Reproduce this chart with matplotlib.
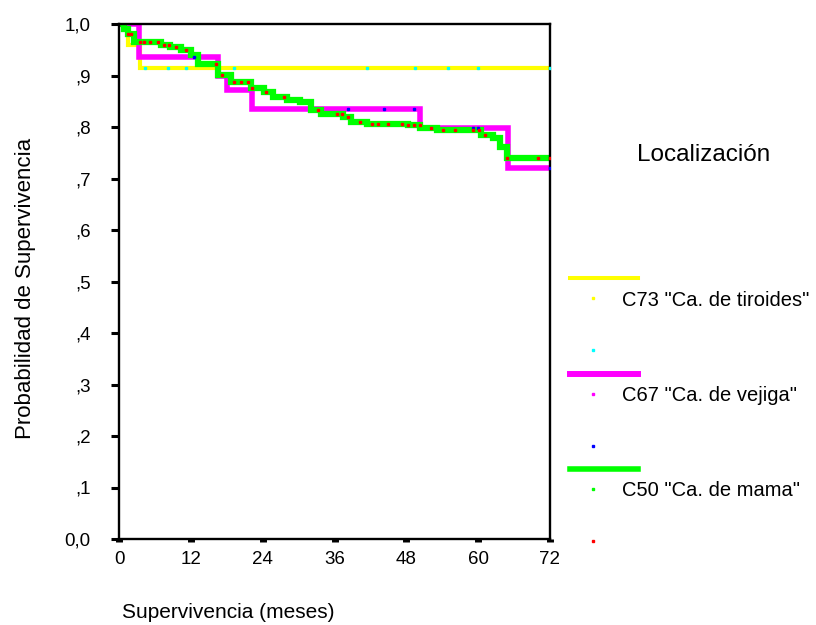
import matplotlib as mpl
mpl.use('Agg')
import matplotlib.pyplot as plt
from matplotlib.lines import Line2D
import numpy as np

plt.rcParams['font.family'] = ['Liberation Sans', 'DejaVu Sans']

# Kaplan-Meier step curves (months, survival)
tir_t = [0, 1.5, 3.5, 72]
tir_s = [1.0, 0.96, 0.915, 0.915]
tir_cens_t = [4.3, 8.2, 11.2, 19.2, 41.5, 49.5, 55, 60, 72]

vej_t = [0, 3.3, 16.5, 18.0, 22.3, 50.3, 65.0, 72]
vej_s = [1.0, 0.936, 0.90, 0.872, 0.835, 0.798, 0.72, 0.72]
vej_cens_t = [12.5, 38.2, 44.2, 49.2, 59.2, 60.0, 72]

mam_t = [0, 0.8, 1.5, 2.5, 7.0, 8.5, 10.3, 12.0, 13.2, 16.5, 18.7, 22.0, 24.2,
         25.8, 28.0, 30.3, 32.0, 33.7, 37.5, 38.7, 41.5, 48.2, 50.3, 53.2,
         60.5, 62.5, 63.7, 64.8, 72]
mam_s = [1.0, 0.99, 0.98, 0.965, 0.96, 0.955, 0.95, 0.94, 0.922, 0.901, 0.887,
         0.876, 0.868, 0.858, 0.852, 0.849, 0.833, 0.825, 0.82, 0.81, 0.806,
         0.804, 0.798, 0.794, 0.784, 0.779, 0.761, 0.74, 0.74]
mam_cens_t = [1.5, 2.0, 3.5, 4.2, 5.2, 6.5, 7.5, 8.3, 9.5, 11.2, 16.2, 17.2,
              19.2, 20.3, 21.5, 22.3, 24.5, 27.5, 33.3, 36.5, 37.2, 38.2, 40.2,
              42.2, 43.2, 45.0, 47.2, 48.2, 49.2, 50.2, 52.2, 54.2, 56.2, 59.2,
              60.2, 61.2, 64.8, 70.0, 72.0]

x_ticks = [0, 12, 24, 36, 48, 60, 72]
y_ticks = [0.0, 0.1, 0.2, 0.3, 0.4, 0.5, 0.6, 0.7, 0.8, 0.9, 1.0]
y_labels = ['0,0', ',1', ',2', ',3', ',4', ',5', ',6', ',7', ',8', ',9', '1,0']

legend_names = ['C73 "Ca. de tiroides"', 'C67 "Ca. de vejiga"', 'C50 "Ca. de mama"']
line_cols = ['#ffff00', '#ff00ff', '#00ff00']
cens_cols = ['#00ffff', '#0000ff', '#ff0000']


def surv_at(t_list, s_list, t):
    idx = np.searchsorted(np.array(t_list), t, side='right') - 1
    return s_list[max(idx, 0)]


fig = plt.figure(figsize=(8.16, 6.25), dpi=100)
ax = fig.add_axes([119 / 816, 1 - 539 / 625, 431 / 816, 515 / 625])

curves = [(tir_t, tir_s, tir_cens_t, 3), (vej_t, vej_s, vej_cens_t, 4),
          (mam_t, mam_s, mam_cens_t, 4.5)]
for (t, s, ct, lw), lc in zip(curves, line_cols):
    ax.step(t, s, where='post', color=lc, lw=lw, zorder=2, solid_joinstyle='miter')
for (t, s, ct, lw), cc in zip(curves, cens_cols):
    cy = [surv_at(t, s, c) for c in ct]
    ax.plot(ct, cy, ls='none', marker='s', ms=2, color=cc, mec=cc, zorder=4)

ax.set_xlim(0, 72)
ax.set_ylim(0, 1.0)
ax.set_xticks(x_ticks)
ax.set_yticks(y_ticks)
ax.set_yticklabels(y_labels)
ax.tick_params(axis='y', direction='out', length=5.5, width=2.2, labelsize=13.5, pad=15)
ax.tick_params(axis='x', direction='out', length=2.5, width=5, labelsize=13.5, pad=6)
for sp in ax.spines.values():
    sp.set_linewidth(1.7)

fig.text(26 / 816, 1 - 288 / 625, 'Probabilidad de Supervivencia', rotation=90,
         ha='center', va='center', fontsize=16)
fig.text(122 / 816, 1 - 612 / 625, 'Supervivencia (meses)', ha='left',
         va='center', fontsize=15)

# legend block on the right
lax = fig.add_axes([0, 0, 1, 1])
lax.set_xlim(0, 816)
lax.set_ylim(625, 0)
lax.axis('off')
lax.text(637, 155, 'Localización', fontsize=17.5, va='center', ha='left')
leg_lw = [2.9, 4.3, 4.0]
for i, (name, lc, cc) in enumerate(zip(legend_names, line_cols, cens_cols)):
    y0 = 278 + i * 95.5
    lax.add_line(Line2D([570, 638], [y0, y0], color=lc, lw=leg_lw[i]))
    lax.plot([593], [y0 + 20], ls='none', marker='s', ms=1.5, color=lc)
    lax.text(622, y0 + 22, name, fontsize=14.5, va='center', ha='left')
    lax.plot([593], [y0 + 72], ls='none', marker='s', ms=1.5, color=cc)

fig.savefig('out.png', dpi=100)
